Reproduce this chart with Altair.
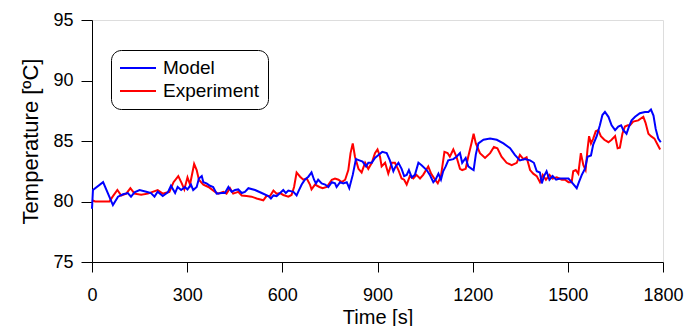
import altair as alt
import pandas as pd

model_time = [0, 3, 35, 66, 82, 98, 113, 123, 134, 150, 171, 186, 197, 207, 223, 239, 249, 262, 270, 281,
              293, 301, 312, 319, 330, 337, 346, 351, 361, 372, 382, 393, 409, 419, 430, 440, 451, 461, 472, 482,
              493, 514, 535, 556, 564, 572, 582, 593, 603, 611, 619, 635, 645, 650, 661, 671, 682, 692, 700, 706,
              713, 724, 735, 745, 756, 766, 771, 782, 792, 803, 811, 822, 832, 843, 853, 864, 871, 882, 892, 903,
              915, 929, 939, 950, 957, 966, 976, 984, 992, 999, 1008, 1018, 1029, 1039, 1055, 1065, 1076, 1083, 1092, 1100,
              1107, 1115, 1123, 1139, 1149, 1160, 1167, 1178, 1186, 1197, 1203, 1210, 1218, 1234, 1255, 1276, 1297, 1318, 1333, 1349,
              1365, 1381, 1393, 1402, 1412, 1418, 1425, 1433, 1442, 1452, 1463, 1475, 1491, 1502, 1512, 1528, 1535, 1544, 1554, 1562,
              1573, 1580, 1591, 1601, 1609, 1617, 1628, 1638, 1649, 1659, 1668, 1675, 1685, 1693, 1701, 1712, 1727, 1743, 1754, 1762,
              1770, 1777, 1785, 1793]
model_temp = [79.4, 80.95, 81.6, 79.7, 80.4, 80.6, 80.7, 80.4, 80.75, 80.95, 80.8, 80.7, 80.4, 80.8, 80.45, 80.75, 81.3, 80.7, 81.2, 80.95,
              81.2, 81.0, 81.4, 80.95, 81.2, 81.9, 82.1, 81.6, 81.5, 81.3, 81.2, 80.65, 80.7, 80.7, 81.2, 80.8, 80.95, 81.0, 80.7, 80.8,
              81.1, 80.95, 80.7, 80.45, 80.25, 80.5, 80.45, 80.7, 80.95, 80.7, 80.9, 80.8, 80.5, 80.8, 81.4, 81.8, 82.05, 82.4, 81.8, 81.5,
              81.8, 81.5, 81.4, 81.2, 81.6, 81.5, 81.2, 81.6, 81.5, 81.6, 81.1, 82.2, 83.5, 83.4, 83.3, 82.9, 83.2, 83.2, 83.6, 83.85,
              84.1, 84.0, 83.4, 82.5, 82.9, 83.2, 82.7, 82.1, 82.2, 82.6, 82.0, 82.2, 83.2, 83.0, 82.6, 82.2, 81.6, 81.8, 82.3, 81.8,
              82.5, 82.9, 83.4, 83.5, 83.7, 84.0, 83.2, 83.6, 82.9, 82.7, 82.6, 83.9, 84.8, 85.1, 85.2, 85.1, 84.8, 84.4, 83.85, 83.4,
              83.5, 83.4, 83.2, 82.5, 82.4, 81.5, 82.1, 82.5, 81.8, 82.1, 81.8, 81.9, 81.9, 81.9, 81.6, 81.1, 81.6, 82.2, 82.7, 83.7,
              83.8, 84.7, 85.4, 86.3, 87.15, 87.4, 87.0, 86.3, 85.9, 86.2, 86.3, 85.9, 85.6, 86.2, 86.7, 87.0, 87.3, 87.4, 87.4, 87.6,
              87.1, 86.0, 85.2, 84.9]

exp_time = [0, 10, 30, 55, 65, 80, 92, 108, 121, 134, 155, 176, 191, 207, 223, 244, 257, 272, 283, 291,
            301, 309, 322, 330, 337, 351, 367, 388, 398, 414, 424, 435, 445, 461, 472, 487, 503, 519, 540, 550,
            561, 572, 582, 593, 603, 619, 629, 637, 645, 656, 666, 677, 687, 692, 703, 717, 727, 740, 756, 766,
            777, 787, 798, 808, 815, 822, 829, 840, 850, 861, 871, 882, 892, 900, 908, 913, 924, 934, 945, 955,
            966, 976, 984, 992, 1002, 1013, 1023, 1034, 1044, 1060, 1069, 1079, 1090, 1100, 1111, 1121, 1128, 1139, 1149, 1160,
            1167, 1178, 1186, 1197, 1203, 1210, 1223, 1239, 1255, 1267, 1278, 1291, 1307, 1323, 1339, 1349, 1360, 1370, 1381, 1391,
            1402, 1412, 1421, 1431, 1442, 1452, 1465, 1481, 1491, 1502, 1512, 1517, 1525, 1533, 1541, 1549, 1556, 1562, 1567, 1573,
            1580, 1588, 1596, 1604, 1615, 1628, 1638, 1649, 1657, 1664, 1672, 1680, 1689, 1696, 1706, 1722, 1738, 1745, 1754, 1762,
            1773, 1781, 1791]
exp_temp = [80.1, 80.0, 80.0, 80.0, 80.4, 80.95, 80.5, 80.65, 81.1, 80.65, 80.55, 80.65, 80.8, 80.95, 80.65, 80.8, 81.6, 82.1, 81.5, 81.0,
            82.0, 81.4, 83.1, 82.6, 81.8, 81.4, 81.2, 80.8, 80.65, 80.8, 80.65, 81.1, 80.65, 80.8, 80.5, 80.45, 80.4, 80.25, 80.1, 80.45,
            80.45, 80.9, 80.65, 80.7, 80.54, 80.4, 80.54, 81.2, 82.4, 82.05, 81.8, 81.9, 81.4, 81.0, 81.4, 81.2, 81.1, 81.2, 81.8, 81.9,
            81.8, 81.6, 81.8, 82.6, 84.0, 84.8, 83.7, 82.7, 82.4, 83.2, 82.7, 83.2, 84.0, 84.3, 83.7, 82.9, 83.2, 82.3, 83.2, 83.2,
            82.6, 81.9, 81.8, 81.4, 82.1, 81.9, 82.2, 81.9, 82.2, 82.9, 82.3, 81.9, 81.5, 82.1, 84.1, 84.0, 83.7, 84.3, 83.7, 82.7,
            82.6, 82.7, 83.7, 84.9, 85.6, 84.8, 84.0, 83.6, 84.0, 84.5, 84.4, 83.7, 83.2, 83.0, 83.2, 83.85, 83.5, 83.65, 82.6, 82.3,
            82.1, 81.6, 82.2, 81.8, 82.2, 81.9, 82.0, 81.8, 81.8, 81.6, 81.6, 82.5, 82.6, 82.3, 84.0, 83.0, 82.6, 84.3, 85.4, 84.8,
            85.2, 85.8, 85.9, 85.4, 85.1, 84.9, 85.1, 85.4, 84.4, 84.45, 85.6, 86.2, 86.3, 86.3, 86.6, 86.7, 87.0, 86.5, 85.6, 85.4,
            85.2, 84.8, 84.3]

series_names = ["Model", "Experiment"]
series_colors = ["#0000ff", "#ff0000"]
x_ticks = [0, 300, 600, 900, 1200, 1500, 1800]
y_ticks = [75, 80, 85, 90, 95]

model_df = pd.DataFrame({"t": model_time, "T": model_temp, "series": "Model"})
exp_df = pd.DataFrame({"t": exp_time, "T": exp_temp, "series": "Experiment"})

FONT = "Liberation Sans"

x_enc = alt.X(
    "t:Q",
    scale=alt.Scale(domain=[0, 1800], nice=False, zero=False),
    axis=alt.Axis(values=x_ticks, format="d", title="Time [s]", grid=False, tickSize=10, labelPadding=14,
                  labelFontSize=18, labelFont=FONT, titleFont=FONT, titleFontSize=20,
                  titleFontWeight="normal", titleX=285.5, titleY=55, titleBaseline="middle",
                  titleAlign="center", domainColor="black", tickColor="black", labelColor="black",
                  titleColor="black", labelFlush=False, labelOverlap=False),
)
y_enc = alt.Y(
    "T:Q",
    scale=alt.Scale(domain=[75, 95], nice=False, zero=False),
    axis=alt.Axis(values=y_ticks, format="d", title="Temperature [ºC]", grid=False, tickSize=11, labelPadding=8,
                  labelFontSize=18, labelFont=FONT, titleFont=FONT, titleFontSize=22,
                  titleFontWeight="normal", titleX=-62, titleY=121, titleAngle=270,
                  titleBaseline="middle", titleAlign="center", domainColor="black", tickColor="black",
                  labelColor="black", titleColor="black", labelFlush=False),
)
color_enc = alt.Color(
    "series:N",
    scale=alt.Scale(domain=series_names, range=series_colors),
    legend=alt.Legend(orient="none", legendX=19, legendY=30, title=None, strokeColor="black",
                      cornerRadius=10, padding=8, fillColor="white", symbolType="M-1,0L3,0",
                      symbolSize=324, symbolStrokeWidth=2, labelFontSize=19, labelFont=FONT,
                      labelOffset=24, rowPadding=3, labelColor="black"),
)

exp_line = alt.Chart(exp_df).mark_line(strokeWidth=2).encode(x=x_enc, y=y_enc, color=color_enc)
model_line = alt.Chart(model_df).mark_line(strokeWidth=2).encode(x=x_enc, y=y_enc, color=color_enc)

chart = alt.layer(exp_line, model_line).properties(
    width=571, height=242,
    autosize=alt.AutoSizeParams(type="none"),
    padding={"left": 92, "top": 20, "right": 21, "bottom": 64},
).configure_view(stroke=None).configure(background="white")

chart.save("out.html", embed_options={"renderer": "svg", "actions": False})
